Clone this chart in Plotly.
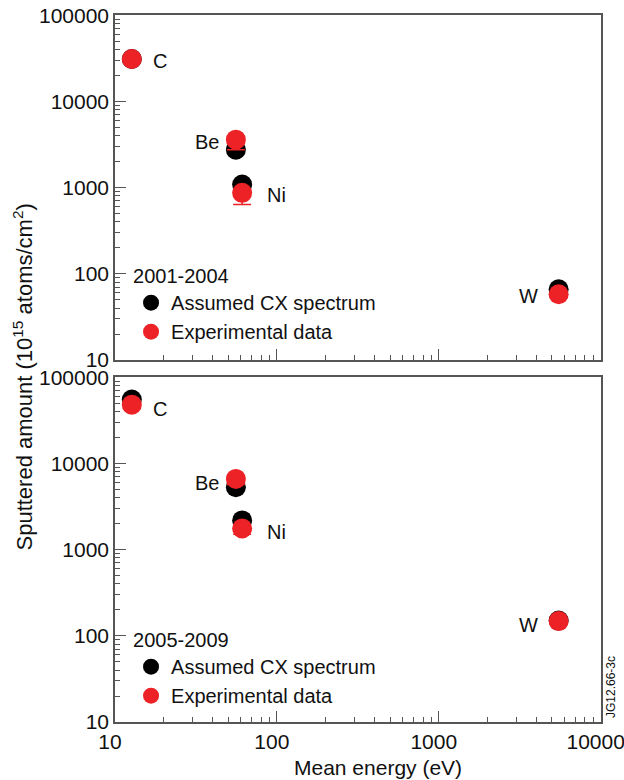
import math
import plotly.graph_objects as go

# ---- data ----
elements = ["C", "Be", "Ni", "W"]
energy = [12.7, 55.8, 61.0, 5500]

cx_2001 = [31000, 2750, 1085, 66]
exp_2001 = [31000, 3600, 870, 58]
exp_2001_err_up = [1000, 250, 70, 2]
exp_2001_err_dn = [2000, 850, 235, 5]

cx_2005 = [55000, 5300, 2180, 150]
exp_2005 = [48000, 6600, 1760, 148]
exp_2005_err_up = [2000, 400, 100, 5]
exp_2005_err_dn = [3000, 900, 250, 10]

periods = ["2001-2004", "2005-2009"]
series_names = ["Assumed CX spectrum", "Experimental data"]

BLACK = "#000000"
RED = "#EC2227"
AXC = "#555555"
FONT = "Liberation Sans, Arial, sans-serif"

fig = go.Figure()

panels = [
    (cx_2001, exp_2001, exp_2001_err_up, exp_2001_err_dn, "x2", "y2", "legend"),
    (cx_2005, exp_2005, exp_2005_err_up, exp_2005_err_dn, "x", "y", "legend2"),
]
for cx, ex, eu, ed, xref, yref, leg in panels:
    fig.add_trace(go.Scatter(
        x=energy, y=cx, mode="markers", name=series_names[0],
        marker=dict(color=BLACK, size=20), xaxis=xref, yaxis=yref, legend=leg))
    fig.add_trace(go.Scatter(
        x=energy, y=ex, mode="markers", name=series_names[1],
        marker=dict(color=RED, size=20), xaxis=xref, yaxis=yref, legend=leg,
        error_y=dict(type="data", symmetric=False, array=eu, arrayminus=ed,
                     color=RED, thickness=1.5, width=9)))

# element labels
xshifts = {"C": 28, "Be": -29, "Ni": 34, "W": -30}
for ex, xref, yref, ys in [(exp_2001, "x2", "y2", -2), (exp_2005, "x", "y", -4)]:
    for el, e, v in zip(elements, energy, ex):
        fig.add_annotation(x=math.log10(e), y=math.log10(v),
                           xref=xref, yref=yref, text=el, showarrow=False,
                           xshift=xshifts[el], yshift=ys,
                           font=dict(size=20, color="#111", family=FONT))

axis_common = dict(
    type="log", showline=True, linecolor=AXC, linewidth=1.5, mirror=True,
    ticks="inside", ticklen=11, tickwidth=1.2, tickcolor=AXC, dtick=1,
    tickformat="d", automargin=False, showgrid=False, zeroline=False,
    ticklabeloverflow="allow",
    minor=dict(ticks="inside", ticklen=5, tickwidth=1, tickcolor=AXC, dtick="D1", showgrid=False),
    tickfont=dict(size=21, color="#111", family=FONT),
)

fig.update_layout(
    width=624, height=780,
    margin=dict(l=115, r=23, t=15, b=58, autoexpand=False),
    paper_bgcolor="white", plot_bgcolor="white",
    font=dict(family=FONT, size=20, color="#111"),
    xaxis=dict(axis_common, range=[1, 4.002], anchor="y", ticklabelshift=-5),
    xaxis2=dict(axis_common, range=[1, 4.002], anchor="y2", matches="x",
                showticklabels=False),
    yaxis=dict(axis_common, range=[1, 5.002], domain=[0, 0.488], anchor="x"),
    yaxis2=dict(axis_common, range=[1, 5.002], domain=[0.512, 1], anchor="x2"),
    legend=dict(x=0.033, y=0.5245, xanchor="left", yanchor="bottom",
                title=dict(text=periods[0], font=dict(size=20)),
                font=dict(size=20), bgcolor="rgba(0,0,0,0)", tracegroupgap=0),
    legend2=dict(x=0.033, y=0.0097, xanchor="left", yanchor="bottom",
                 title=dict(text=periods[1], font=dict(size=20)),
                 font=dict(size=20), bgcolor="rgba(0,0,0,0)", tracegroupgap=0),
    showlegend=True,
)

# x-axis title
fig.add_annotation(text="Mean energy (eV)", xref="paper", yref="paper", x=0.5, y=0,
                   xshift=20, yshift=-45, xanchor="center", yanchor="middle",
                   showarrow=False, font=dict(size=21, color="#111", family=FONT))
# y-axis title spanning both panels
fig.add_annotation(text="Sputtered amount (10<sup>15</sup> atoms/cm<sup>2</sup>)",
                   xref="paper", yref="paper", x=0, y=0.5, xshift=-93, yshift=-9,
                   textangle=-90, showarrow=False, xanchor="center", yanchor="middle",
                   font=dict(size=22, color="#111", family=FONT))
# figure code
fig.add_annotation(text="JG12.66-3c", xref="paper", yref="paper", x=1.0, y=0.0,
                   xanchor="center", yanchor="bottom", textangle=-90, showarrow=False,
                   xshift=10, yshift=2, font=dict(size=12, color="#111", family=FONT))

fig.write_html("out.html", config={"displayModeBar": False},
               post_script="document.body.style.margin='0px';")
